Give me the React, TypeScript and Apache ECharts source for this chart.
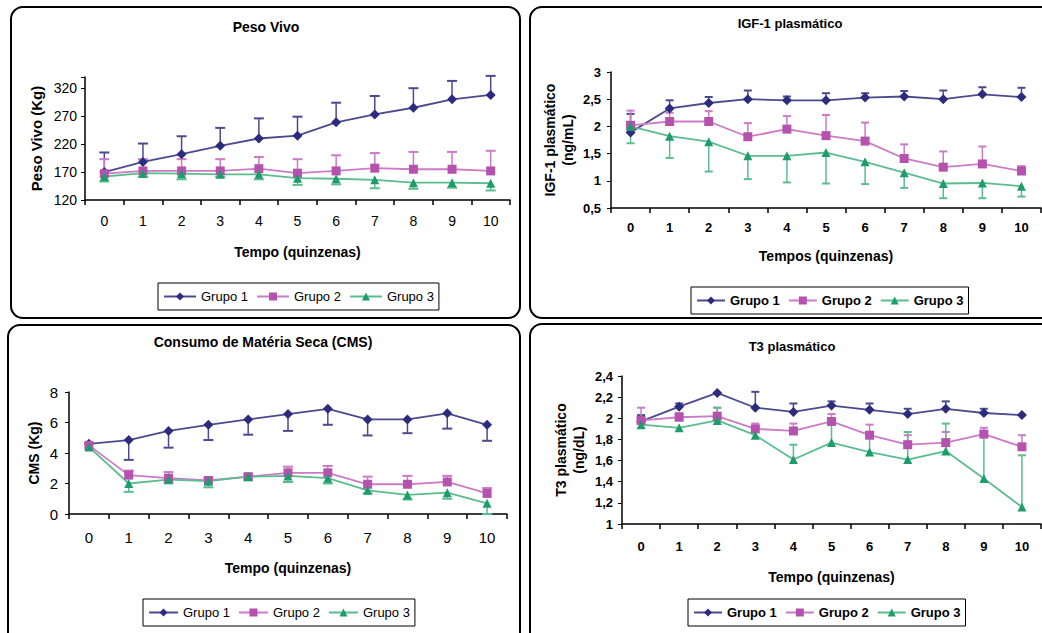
import React, { useEffect, useRef } from "react";
import * as echarts from "echarts";

const categories = ["0", "1", "2", "3", "4", "5", "6", "7", "8", "9", "10"];
const groupNames = ["Grupo 1", "Grupo 2", "Grupo 3"];

// Peso Vivo (Kg)
const pesoG1 = [170, 188, 202, 217, 230, 235, 259, 273, 285, 300, 308];
const pesoG1Err = [205, 221, 234, 249, 266, 269, 294, 306, 320, 333, 342];
const pesoG2 = [167, 172, 172, 172, 176, 168, 172, 177, 175, 175, 172];
const pesoG2Err = [193, 193, 193, 193, 197, 193, 200, 204, 206, 206, 208];
const pesoG3 = [162, 168, 167, 166, 166, 159, 158, 156, 151, 151, 150];
const pesoG3Err = [153, 161, 157, 161, 157, 147, 148, 141, 140, 142, 137];

// IGF-1 plasmático (ng/mL)
const igfG1 = [1.89, 2.33, 2.43, 2.5, 2.48, 2.48, 2.53, 2.55, 2.5, 2.59, 2.54];
const igfG1Err = [2.23, 2.48, 2.54, 2.66, 2.55, 2.61, 2.61, 2.65, 2.66, 2.72, 2.71];
const igfG2 = [2.02, 2.09, 2.09, 1.81, 1.95, 1.83, 1.73, 1.41, 1.25, 1.31, 1.18];
const igfG2Err = [2.29, 2.25, 2.28, 2.06, 2.19, 2.21, 2.07, 1.67, 1.54, 1.63, 1.27];
const igfG3 = [2.0, 1.82, 1.72, 1.46, 1.46, 1.52, 1.35, 1.15, 0.95, 0.96, 0.9];
const igfG3Err = [1.69, 1.42, 1.17, 1.03, 0.97, 0.95, 0.94, 0.87, 0.68, 0.68, 0.71];

// Consumo de Matéria Seca (Kg)
const cmsG1 = [4.6, 4.85, 5.45, 5.85, 6.2, 6.55, 6.9, 6.2, 6.2, 6.6, 5.85];
const cmsG1Err = [4.6, 3.55, 4.35, 4.85, 5.2, 5.45, 5.85, 5.15, 5.3, 5.6, 4.8];
const cmsG2 = [4.5, 2.55, 2.35, 2.2, 2.45, 2.7, 2.7, 1.95, 1.95, 2.1, 1.35];
const cmsG2Err = [4.5, 2.85, 2.75, 2.35, 2.6, 3.1, 3.15, 2.45, 2.5, 2.5, 1.7];
const cmsG3 = [4.4, 2.0, 2.25, 2.15, 2.45, 2.5, 2.35, 1.55, 1.25, 1.4, 0.7];
const cmsG3Err = [4.4, 1.45, 2.05, 1.75, 2.25, 2.1, 2.0, 1.35, 0.95, 1.0, 0.0];

// T3 plasmático (ng/dL)
const t3G1 = [1.97, 2.11, 2.24, 2.1, 2.06, 2.12, 2.08, 2.04, 2.09, 2.05, 2.03];
const t3G1Err = [2.03, 2.14, 2.24, 2.25, 2.14, 2.16, 2.14, 2.09, 2.16, 2.09, 2.03];
const t3G2 = [1.98, 2.01, 2.02, 1.9, 1.88, 1.97, 1.84, 1.75, 1.77, 1.85, 1.73];
const t3G2Err = [2.1, 2.05, 2.1, 1.95, 1.95, 2.04, 1.94, 1.84, 1.87, 1.91, 1.84];
const t3G3 = [1.94, 1.91, 1.98, 1.84, 1.61, 1.77, 1.68, 1.61, 1.69, 1.43, 1.16];
const t3G3Err = [1.94, 1.91, 2.1, 1.84, 1.75, 1.96, 1.84, 1.87, 1.95, 1.88, 1.65];

const FONT = "'Liberation Sans', Arial, sans-serif";
const C1 = "#2c2b7d";
const C2 = "#b452ad";
const C3 = "#1f9c6c";
const L1 = "#4b4a8f";
const L2 = "#cc7bc6";
const L3 = "#5bbd8f";
const SYMBOLS = ["diamond", "rect", "triangle"];
const SIZES = [10, 9, 9];
const MCOL = [C1, C2, C3];
const LCOL = [L1, L2, L3];

const fmt = (v: number) => String(parseFloat(v.toFixed(2))).replace(".", ",");

function App() {
  const ref = useRef<HTMLDivElement>(null);
  useEffect(() => {
    if (!ref.current) return;
    const chart = echarts.init(ref.current, undefined, { renderer: "svg" });

    const panels = [
      {
        title: "Peso Vivo", titleX: 266, titleY: 20, titleSize: 14,
        grid: { left: 85, right: 532, top: 77, height: 123 },
        min: 120, max: 340, interval: 50, bold: false, labelSize: 14,
        yName: "Peso Vivo (Kg)", yGap: 40, yNameSize: 15,
        xName: "Tempo (quinzenas)", xGap: 45, xMargin: 14, yMargin: 8,
        legend: { left: 158, top: 283, itemWidth: 32, bold: false },
        data: [[pesoG1, pesoG1Err], [pesoG2, pesoG2Err], [pesoG3, pesoG3Err]],
        cap: 10,
      },
      {
        title: "IGF-1 plasmático", titleX: 790, titleY: 17, titleSize: 13,
        grid: { left: 611, right: 1, top: 72, height: 136 },
        min: 0.5, max: 3, interval: 0.5, bold: true, labelSize: 13,
        yName: "IGF-1 plasmático\n(ng/mL)", yGap: 34, yNameSize: 14,
        xName: "Tempos (quinzenas)", xGap: 41, xMargin: 13, yMargin: 10,
        legend: { left: 691, top: 287, itemWidth: 28, bold: true },
        data: [[igfG1, igfG1Err], [igfG2, igfG2Err], [igfG3, igfG3Err]],
        cap: 8,
      },
      {
        title: "Consumo de Matéria Seca (CMS)", titleX: 263, titleY: 335, titleSize: 14,
        grid: { left: 69, right: 535, top: 392, height: 122 },
        min: 0, max: 8, interval: 2, bold: false, labelSize: 15,
        yName: "CMS (Kg)", yGap: 26, yNameSize: 14,
        xName: "Tempo (quinzenas)", xGap: 47, xMargin: 16, yMargin: 11,
        legend: { left: 143, top: 599, itemWidth: 29, bold: false },
        data: [[cmsG1, cmsG1Err], [cmsG2, cmsG2Err], [cmsG3, cmsG3Err]],
        cap: 10,
      },
      {
        title: "T3 plasmático", titleX: 792, titleY: 340, titleSize: 13,
        grid: { left: 622, right: 1, top: 376, height: 148 },
        min: 1, max: 2.4, interval: 0.2, bold: true, labelSize: 13,
        yName: "T3 plasmático\n(ng/dL)", yGap: 34, yNameSize: 14,
        xName: "Tempo (quinzenas)", xGap: 46, xMargin: 16, yMargin: 9,
        legend: { left: 688, top: 599, itemWidth: 28, bold: true },
        data: [[t3G1, t3G1Err], [t3G2, t3G2Err], [t3G3, t3G3Err]],
        cap: 8,
      },
    ];

    const grids: any[] = [];
    const xAxes: any[] = [];
    const yAxes: any[] = [];
    const series: any[] = [];
    const legends: any[] = [];
    const titles: any[] = [];

    panels.forEach((p, k) => {
      grids.push({ ...p.grid, containLabel: false });
      titles.push({
        text: p.title, left: p.titleX, top: p.titleY, textAlign: "center", padding: 0,
        textStyle: { fontFamily: FONT, fontSize: p.titleSize, fontWeight: "bold", color: "#000" },
      });
      xAxes.push({
        type: "category", gridIndex: k, data: categories, boundaryGap: true,
        axisLine: { lineStyle: { color: "#000", width: 1.5 } },
        axisTick: { show: true, length: 5, lineStyle: { color: "#000", width: 1.5 } },
        axisLabel: { color: "#000", fontFamily: FONT, fontSize: p.labelSize, fontWeight: p.bold ? "bold" : "normal", margin: p.xMargin },
        name: p.xName, nameLocation: "middle", nameGap: p.xGap,
        nameTextStyle: { color: "#000", fontFamily: FONT, fontSize: 14, fontWeight: "bold" },
        splitLine: { show: false },
      });
      yAxes.push({
        type: "value", gridIndex: k, min: p.min, max: p.max, interval: p.interval,
        axisLine: { show: true, lineStyle: { color: "#000", width: 1.5 } },
        axisTick: { show: true, length: 4, lineStyle: { color: "#000", width: 1 } },
        axisLabel: {
          color: "#000", fontFamily: FONT, fontSize: p.labelSize, fontWeight: p.bold ? "bold" : "normal", margin: p.yMargin,
          formatter: (v: number) => {
            const r = Math.round((v - p.min) / p.interval);
            if (Math.abs(p.min + r * p.interval - v) > 1e-6) return "";
            return fmt(v);
          },
        },
        name: p.yName, nameLocation: "middle", nameGap: p.yGap, nameRotate: 90,
        nameTextStyle: { color: "#000", fontFamily: FONT, fontSize: p.yNameSize, fontWeight: "bold", lineHeight: 18, align: "center" },
        splitLine: { show: false },
      });
      legends.push({
        left: p.legend.left, top: p.legend.top, orient: "horizontal",
        data: groupNames, itemWidth: p.legend.itemWidth, itemHeight: 10, itemGap: 8,
        padding: [7, 5, 7, 5], borderColor: "#000", borderWidth: 1, backgroundColor: "#fff",
        textStyle: { fontFamily: FONT, fontSize: 13, color: "#000", fontWeight: p.legend.bold ? "bold" : "normal" },
        selectedMode: false,
      });
      p.data.forEach((pair, g) => {
        const vals = pair[0];
        const ends = pair[1];
        const col = LCOL[g];
        const cap = p.cap;
        series.push({
          type: "custom", name: "err" + k + "_" + g, xAxisIndex: k, yAxisIndex: k, z: 1, silent: true,
          data: vals.map((v, i) => [i, v, ends[i]]),
          encode: { x: 0, y: [1, 2] },
          renderItem: (params: any, api: any) => {
            const x = api.value(0);
            const v = api.value(1);
            const e = api.value(2);
            if (Math.abs(v - e) < 1e-9) return { type: "group", children: [] };
            const p1 = api.coord([x, v]);
            const p2 = api.coord([x, e]);
            return {
              type: "group",
              children: [
                { type: "line", shape: { x1: p1[0], y1: p1[1], x2: p2[0], y2: p2[1] }, style: { stroke: col, lineWidth: 1.5 } },
                { type: "line", shape: { x1: p2[0] - cap / 2, y1: p2[1], x2: p2[0] + cap / 2, y2: p2[1] }, style: { stroke: col, lineWidth: 2 } },
              ],
            };
          },
        });
        series.push({
          type: "line", name: groupNames[g], xAxisIndex: k, yAxisIndex: k, z: 3,
          data: vals, symbol: SYMBOLS[g], symbolSize: SIZES[g], showSymbol: true,
          lineStyle: { color: LCOL[g], width: 1.8 },
          itemStyle: { color: MCOL[g], borderWidth: 0 },
        });
      });
    });

    const border = (x: number, y: number, w: number, h: number) => ({
      type: "rect", shape: { x, y, width: w, height: h, r: 12 },
      style: { fill: "none", stroke: "#000", lineWidth: 2 }, z: 0, silent: true,
    });

    chart.setOption({
      animation: false,
      backgroundColor: "#fff",
      title: titles,
      grid: grids,
      xAxis: xAxes,
      yAxis: yAxes,
      legend: legends,
      series,
      graphic: [
        border(11, 7, 509, 311),
        border(530, 7, 530, 311),
        border(8, 325, 512, 320),
        border(530, 324, 530, 320),
      ],
    });
    return () => chart.dispose();
  }, []);
  return <div ref={ref} style={{ position: "fixed", left: 0, top: 0, width: 1042, height: 633 }} />;
}

export default App;
